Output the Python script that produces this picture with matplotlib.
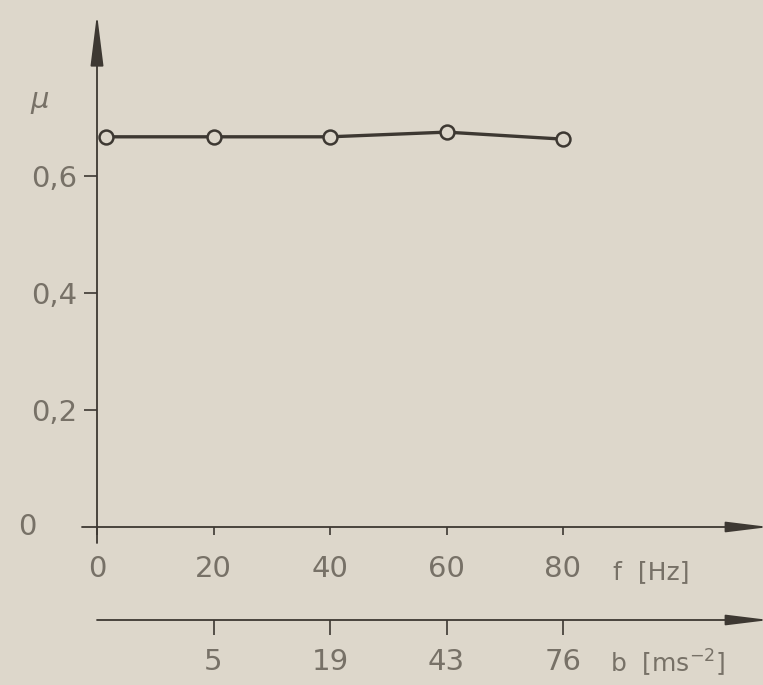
import matplotlib.pyplot as plt
import numpy as np

f_hz = [1.5, 20, 40, 60, 80]
mu = [0.667, 0.667, 0.667, 0.675, 0.663]
f_ticks = [0, 20, 40, 60, 80]
b_ticks = [20, 40, 60, 80]
b_labels = ['5', '19', '43', '76']
mu_ticks = [0.2, 0.4, 0.6]
mu_labels = ['0,2', '0,4', '0,6']

bg = '#ddd7cb'
ink = '#3d3832'
txt = '#777167'

W, H = 763, 685
fig = plt.figure(figsize=(W / 100, H / 100), dpi=100, facecolor=bg)

# axes origin at pixel (97, 527), top at y pixel 12
ax = fig.add_axes([97 / W, (H - 527) / H, (W - 97) / W, (527 - 12) / H])
ax.set_facecolor(bg)
px_x = 116.5 / 20      # pixels per Hz
px_y = 117 / 0.2       # pixels per unit mu
xmax = (W - 97) / px_x
ymax = (527 - 12) / px_y
ax.set_xlim(0, xmax)
ax.set_ylim(0, ymax)

for s in ax.spines.values():
    s.set_visible(False)

fs = 21

# ticks
ax.set_yticks(mu_ticks, labels=mu_labels)
ax.set_xticks(f_ticks, labels=[str(v) for v in f_ticks])
ax.tick_params(axis='y', direction='out', length=9.5, width=1.2, color=ink,
               labelsize=fs, labelcolor=txt, pad=5)
ax.tick_params(axis='x', direction='out', length=6, width=1.2, color=ink,
               labelsize=fs, labelcolor=txt, pad=14)
ax.text(-12.0, 0, '0', fontsize=fs, color=txt, ha='center', va='center')

# axis lines with arrows
arr = dict(arrowstyle='-|>,head_length=1.3,head_width=0.16', color=ink,
           lw=1.3, mutation_scale=20, shrinkA=0, shrinkB=0)
ax.annotate('', xy=(xmax + 6 / px_x, 0), xytext=(-15 / px_x, 0), arrowprops=arr,
            annotation_clip=False)
ax.annotate('', xy=(0, ymax - 2 / px_y), xytext=(0, -16 / px_y),
            arrowprops=dict(arr, arrowstyle='-|>,head_length=1.6,head_width=0.2'),
            annotation_clip=False)

# second scale: acceleration b
loc = -93 / (527 - 12)
sec = ax.secondary_xaxis(loc)
sec.spines['bottom'].set_visible(False)
sec.set_xticks(b_ticks, labels=b_labels)
sec.tick_params(direction='out', length=10.5, width=1.2, color=ink,
                labelsize=fs, labelcolor=txt, pad=10)
ax.annotate('', xy=(xmax + 6 / px_x, -93 / px_y), xytext=(0, -93 / px_y),
            arrowprops=arr, annotation_clip=False)

# data
ax.plot(f_hz, mu, color=ink, lw=2.4, marker='o', markersize=10,
        markerfacecolor=bg, markeredgecolor=ink, markeredgewidth=1.8,
        clip_on=False, zorder=3)

# labels
ax.text(-57 / px_x, 0.73, 'μ', fontsize=fs, color=txt, ha='center', va='center',
        style='italic')
ax.text(88.5, -45 / px_y, 'f  [Hz]', fontsize=18, color=txt, ha='left', va='center')
ax.text(88.0, -136 / px_y, 'b  [ms$^{-2}$]', fontsize=18, color=txt,
        ha='left', va='center')

fig.savefig('out.png', dpi=100, facecolor=bg)
